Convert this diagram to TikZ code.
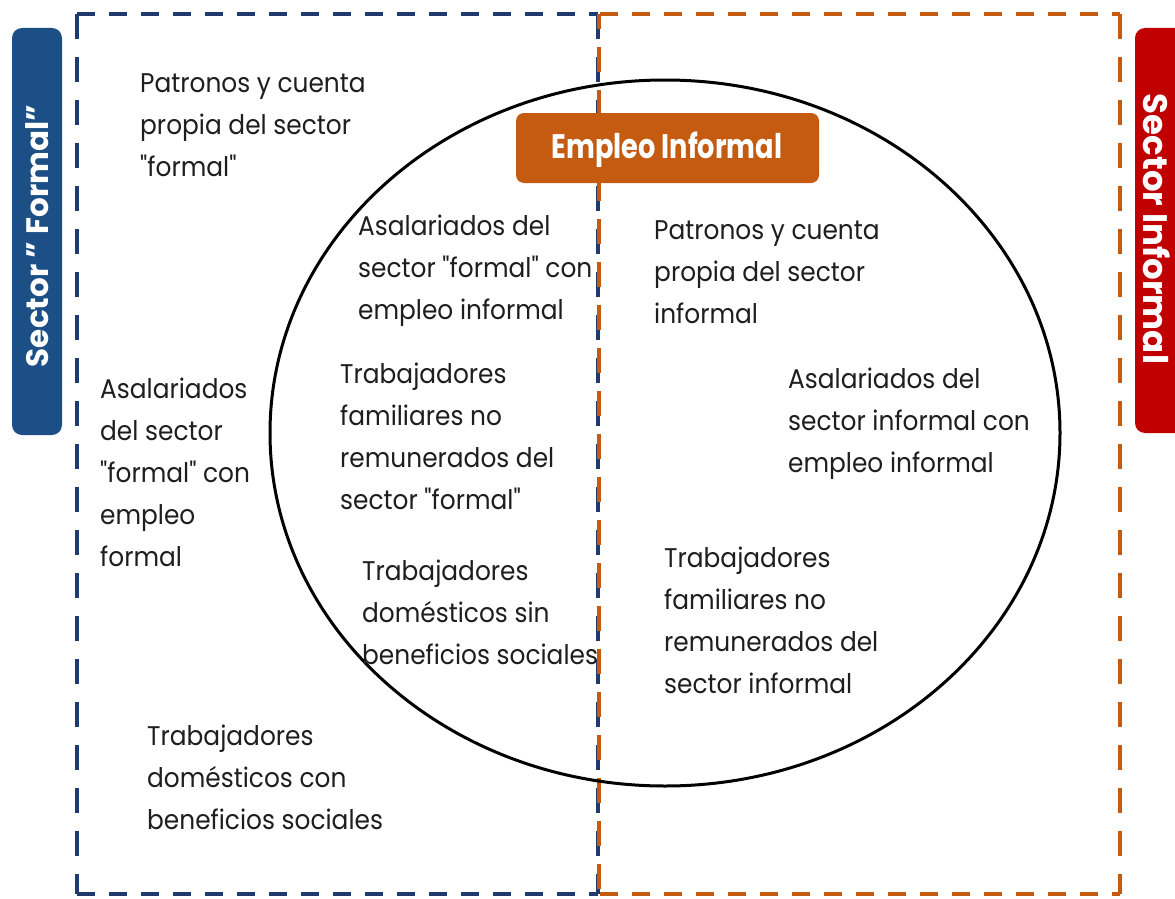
\documentclass[tikz,border=0pt]{standalone}
\usepackage{fontspec}
\setmainfont{Poppins}
\newfontfamily\bodyfont{Poppins}[FakeStretch=0.92]
\newfontfamily\narrowfont{Poppins}[FakeStretch=0.8]
\definecolor{navy}{HTML}{1F3A6E}
\definecolor{steelblue}{HTML}{1B4F85}
\definecolor{burnt}{HTML}{C55A11}
\definecolor{deepred}{HTML}{C00000}
\definecolor{ink}{HTML}{1E1E1E}
\tikzset{
  item/.style={anchor=north west, inner sep=0pt, align=left, text=ink,
    font=\bodyfont\fontsize{27}{42}\selectfont},
  hline/.style={line width=4.5pt, dash pattern=on 18pt off 14pt},
  vline/.style={line width=4.5pt, dash pattern=on 25pt off 18pt},
}
\begin{document}
\begin{tikzpicture}[x=1pt,y=-1pt]
\useasboundingbox (0,0) rectangle (1175,899);
\fill[white] (0,0) rectangle (1175,899);

% formal sector frame
\draw[hline, navy] (77,14) -- (598,14);
\draw[hline, navy] (77,894) -- (598,894);
\draw[vline, navy] (77,14) -- (77,894);
\draw[vline, navy] (598,14) -- (598,894);
% informal sector frame
\draw[hline, burnt] (600,14) -- (1120,14);
\draw[hline, burnt] (600,894) -- (1120,894);
\draw[vline, burnt] (1120,14) -- (1120,894);
\draw[vline, burnt, dash phase=10pt] (599,14) -- (599,894);

% informal employment ellipse
\draw[line width=3pt, black] (665,433) ellipse [x radius=395, y radius=353];

% title boxes
\fill[steelblue, rounded corners=10pt] (12,28) rectangle (62,435);
\node[text=white, font=\bfseries\fontsize{31}{36}\selectfont, rotate=90] (formal) at (37,236) {Sector " Formal"};
\fill[deepred, rounded corners=10pt] (1135,28) rectangle (1195,433);
\node[text=white, font=\bfseries\fontsize{34}{36}\selectfont, rotate=-90] (informal) at (1157,229) {Sector Informal};
\fill[burnt, rounded corners=8pt] (516,113) rectangle (819,183);
\node[text=white, font=\narrowfont\bfseries\fontsize{34}{36}\selectfont] (empleo) at (667,150) {Empleo Informal};

% categories
\node[item] (a1) at (140,73) {Patronos y cuenta\\propia del sector\\"formal"};
\node[item] (a2) at (100,378) {Asalariados\\del sector\\"formal" con\\empleo\\formal};
\node[item] (a3) at (147,725) {Trabajadores\\domésticos con\\beneficios sociales};
\node[item] (b1) at (358,215) {Asalariados del\\sector "formal" con\\empleo informal};
\node[item] (b2) at (340,363) {Trabajadores\\familiares no\\remunerados del\\sector "formal"};
\node[item] (b3) at (362,560) {Trabajadores\\domésticos sin\\beneficios sociales};
\node[item] (c1) at (654,220) {Patronos y cuenta\\propia del sector\\informal};
\node[item] (c2) at (788,368) {Asalariados del\\sector informal con\\empleo informal};
\node[item] (c3) at (664,547) {Trabajadores\\familiares no\\remunerados del\\sector informal};
\end{tikzpicture}
\end{document}
